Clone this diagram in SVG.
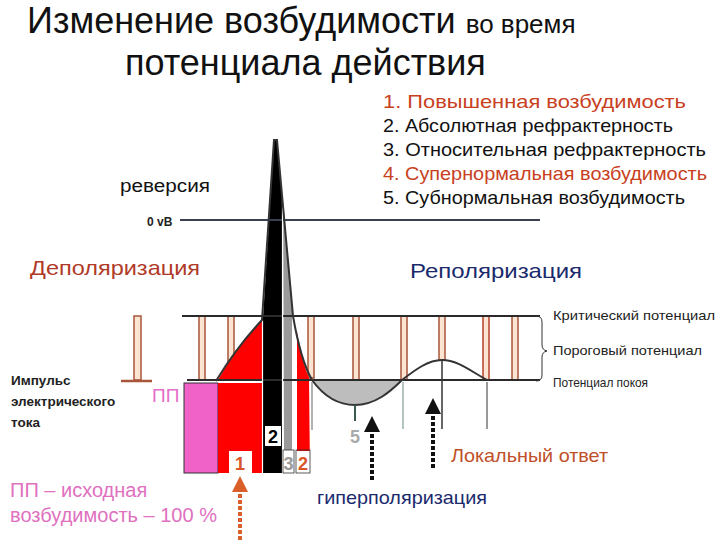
<svg xmlns="http://www.w3.org/2000/svg" width="720" height="540" viewBox="0 0 720 540">
<style>
text{font-family:"Liberation Sans",Arial,sans-serif}
.leg{font-size:18.5px}
.red{fill:#c8401e}
.blk{fill:#111}
.pulse{fill:#fbe4d2;stroke:#a8553a;stroke-width:1.5}
.axis{stroke:#2a2a2a;stroke-width:2;fill:none}
.curve{stroke:#333;stroke-width:2;fill:none}
.thin{stroke:#333;stroke-width:1;fill:none}
.small{font-size:13.5px;fill:#222}
.num{font-size:18px;font-weight:bold;text-anchor:middle}
.dotarrow{stroke-width:4;stroke-dasharray:4 2;fill:none}
</style>
<defs>
<marker id="hO" markerWidth="4" markerHeight="4" refX="2" refY="2" orient="auto" markerUnits="strokeWidth"><path d="M0,0 L4,2 L0,4 Z" fill="#d9602a"/></marker>
<marker id="hB" markerWidth="4" markerHeight="4" refX="2" refY="2" orient="auto" markerUnits="strokeWidth"><path d="M0,0 L4,2 L0,4 Z" fill="#111"/></marker>
</defs>
<rect width="720" height="540" fill="#fff"/>

<g id="title">
<text x="27" y="33" font-size="36" fill="#111">Изменение возбудимости <tspan font-size="26">во время</tspan></text>
<text x="125" y="75" font-size="36" fill="#111">потенциала действия</text>
</g>

<g id="legend">
<text class="leg red" x="383" y="108" textLength="303" lengthAdjust="spacingAndGlyphs">1. Повышенная возбудимость</text>
<text class="leg blk" x="383" y="132" textLength="290" lengthAdjust="spacingAndGlyphs">2. Абсолютная рефрактерность</text>
<text class="leg blk" x="383" y="156" textLength="323" lengthAdjust="spacingAndGlyphs">3. Относительная рефрактерность</text>
<text class="leg red" x="383" y="180" textLength="324" lengthAdjust="spacingAndGlyphs">4. Супернормальная возбудимость</text>
<text class="leg blk" x="383" y="204" textLength="302" lengthAdjust="spacingAndGlyphs">5. Субнормальная возбудимость</text>
</g>

<g id="labels">
<text x="120" y="192" font-size="18" fill="#111" textLength="90" lengthAdjust="spacingAndGlyphs">реверсия</text>
<text x="147" y="226" font-size="12" font-weight="bold" fill="#222">0 vB</text>
<text x="30" y="275" font-size="21" fill="#b03a28" textLength="170" lengthAdjust="spacingAndGlyphs">Деполяризация</text>
<text x="410" y="278" font-size="21" fill="#1a2a6c" textLength="172" lengthAdjust="spacingAndGlyphs">Реполяризация</text>
<text class="small" x="553" y="320" textLength="162" lengthAdjust="spacingAndGlyphs">Критический потенциал</text>
<text class="small" x="553" y="355" textLength="149" lengthAdjust="spacingAndGlyphs">Пороговый потенциал</text>
<text class="small" x="553" y="387" textLength="95" lengthAdjust="spacingAndGlyphs">Потенциал покоя</text>
<text class="small" x="11" y="385" font-weight="bold">Импульс</text>
<text class="small" x="11" y="406" font-weight="bold">электрического</text>
<text class="small" x="11" y="427" font-weight="bold">тока</text>
<text x="152" y="402" font-size="19" fill="#e46ec8">ПП</text>
<text x="10" y="497" font-size="20" fill="#e070c0">ПП – исходная</text>
<text x="10" y="522" font-size="20" fill="#e070c0" textLength="207" lengthAdjust="spacingAndGlyphs">возбудимость – 100 %</text>
<text x="451" y="462" font-size="19" fill="#c0502a" textLength="157" lengthAdjust="spacingAndGlyphs">Локальный ответ</text>
<text x="317" y="504" font-size="19" fill="#1a2a6c" textLength="170" lengthAdjust="spacingAndGlyphs">гиперполяризация</text>
</g>

<g id="pulses">
<rect class="pulse" x="134" y="316" width="7" height="64"/>
<line x1="121" y1="381" x2="152" y2="381" stroke="#a8553a" stroke-width="2.5"/>
<rect class="pulse" x="199" y="316" width="6" height="64"/>
<rect class="pulse" x="228" y="316" width="6" height="64"/>
<rect class="pulse" x="308" y="316" width="6" height="62"/>
<rect class="pulse" x="353" y="316" width="6" height="64"/>
<rect class="pulse" x="401" y="316" width="6" height="64"/>
<rect class="pulse" x="439" y="316" width="6" height="44"/>
<rect class="pulse" x="483" y="316" width="6" height="64" style="stroke:#b8402a"/>
<rect class="pulse" x="512" y="316" width="6" height="64"/>
</g>

<g id="areas">
<rect x="184" y="383" width="34" height="90" fill="#f062c8" stroke="#333" stroke-width="1"/>
<path d="M218,380 C232,355 248,335 262,320 L262,380 Z" fill="#ff0000"/>
<rect x="218" y="383" width="44" height="90" fill="#ff0000"/>
<rect x="229" y="451" width="23" height="22" fill="#fff"/>
<path d="M274,140 L277,140 L282,197 L282,473 L263,473 L263,318 Z" fill="#000"/>
<rect x="265" y="426" width="16" height="20" fill="#fff"/>
<path d="M283,200 L292,303 L292,450 L284,450 Z" fill="#9a9a9a"/>
<path d="M297,332 C300,350 304,366 309,378 L310,473 L297,473 Z" fill="#ff0000"/>
<rect x="297" y="451" width="13" height="22" fill="#fff"/>
<path d="M312,380 C325,398 340,405 355,405 C375,405 390,392 402,380 Z" fill="#bdbdbd"/>
</g>

<g id="axes">
<line class="axis" x1="180" y1="220" x2="540" y2="220" style="stroke:#3a4050"/>
<line class="axis" x1="182" y1="316" x2="540" y2="316"/>
<line class="axis" x1="187" y1="380" x2="540" y2="380"/>
<line x1="218" y1="382" x2="262" y2="382" stroke="#fff" stroke-width="1.5"/>
<line x1="262.5" y1="320" x2="262.5" y2="473" stroke="#fff" stroke-width="1.2"/>
<line x1="282.5" y1="198" x2="282.5" y2="473" stroke="#fff" stroke-width="1.2"/>
<path d="M536,316 Q542,316 542,322 L542,345 Q542,350 547,351 Q542,352 542,357 L542,375 Q542,381 536,381" class="thin"/>
</g>

<g id="curves">
<path class="curve" d="M216,381 C232,355 248,335 262,320 L274,140 L277,140 L293,316 C298,345 304,366 312,380 C325,398 340,405 355,405 C375,405 390,392 402,380 C415,370 428,360 442,360 C458,360 472,372 487,380"/>
<line x1="355" y1="405" x2="355" y2="421" stroke="#3a5a50" stroke-width="2"/>
<line x1="312" y1="382" x2="312" y2="430" stroke="#999" stroke-width="1.5"/>
<line x1="403" y1="382" x2="403" y2="429" stroke="#9ab0a8" stroke-width="1.5"/>
<line x1="442" y1="360" x2="442" y2="429" stroke="#333" stroke-width="1.5"/>
<line x1="487" y1="382" x2="487" y2="429" stroke="#777" stroke-width="1.5"/>
<rect x="283" y="450" width="11" height="23" class="thin" style="stroke-width:0.8"/>
<rect x="296" y="450" width="14" height="23" class="thin" style="stroke-width:0.8"/>
</g>

<g id="numbers">
<text class="num" x="240" y="470" fill="#d9552a">1</text>
<text class="num" x="273" y="443" fill="#000">2</text>
<text class="num" x="288.5" y="470" fill="#999">3</text>
<text class="num" x="303" y="470" fill="#d9552a">2</text>
<text class="num" x="355" y="443" fill="#aaa" font-weight="normal">5</text>
</g>

<g id="connectors">
<path class="dotarrow" d="M240,540 L240,484" stroke="#d9602a" marker-end="url(#hO)"/>
<path class="dotarrow" d="M372,480 L372,424" stroke="#111" marker-end="url(#hB)"/>
<path class="dotarrow" d="M433,468 L433,406" stroke="#111" marker-end="url(#hB)"/>
</g>
</svg>
